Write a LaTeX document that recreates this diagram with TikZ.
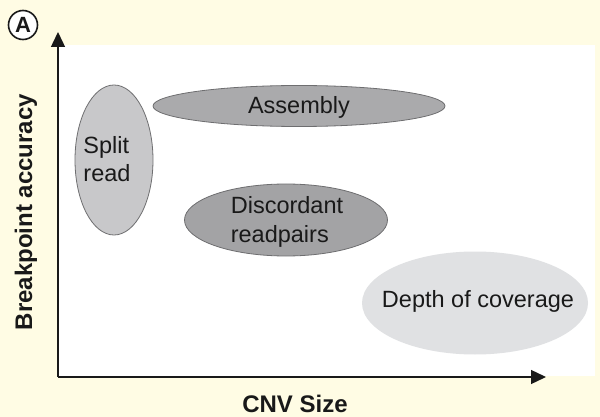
\documentclass[tikz,border=0pt]{standalone}
\usepackage{fontspec}
\setmainfont{Liberation Sans}
\usetikzlibrary{shapes.geometric,arrows.meta}
\definecolor{cream}{RGB}{255,252,228}
\definecolor{edgegray}{RGB}{110,110,112}
\definecolor{splitfill}{RGB}{200,200,202}
\definecolor{asmfill}{RGB}{170,170,172}
\definecolor{discfill}{RGB}{163,163,165}
\definecolor{depthfill}{RGB}{224,225,227}
\definecolor{ink}{RGB}{25,25,25}
\tikzset{
  blob/.style={ellipse, draw=edgegray, line width=0.8pt, inner sep=0pt},
  lbl/.style={font=\fontsize{23.5}{28.5}\selectfont, text=ink, inner sep=0pt, align=left},
  axlbl/.style={font=\fontsize{24}{28}\selectfont\bfseries, text=ink, inner sep=0pt},
  axis/.style={line width=1.4pt, ink, -{Triangle[length=15pt,width=14pt]}}
}
\begin{document}
\begin{tikzpicture}[x=1pt,y=-1pt]
\useasboundingbox (0,0) rectangle (600,417);
\fill[cream] (0,0) rectangle (600,417);
\fill[white] (58,45) rectangle (595,376);
% ellipses
\node[blob, fill=splitfill, minimum width=78pt, minimum height=150pt] (split) at (114,160) {};
\node[blob, fill=asmfill, minimum width=292pt, minimum height=41pt] (asm) at (299,106) {};
\node[blob, fill=discfill, minimum width=203pt, minimum height=72pt] (disc) at (286,220) {};
\node[ellipse, fill=depthfill, inner sep=0pt, minimum width=226pt, minimum height=103pt] (depth) at (475,303) {};
% labels
\node[lbl] (splitt) at (107,159) {Split\\read};
\node[lbl] (asmt) at (299,107) {Assembly};
\node[lbl] (disct) at (287,222) {Discordant\\readpairs};
\node[lbl] (deptht) at (478,301) {Depth of coverage};
% axes
\coordinate (origin) at (58,377);
\coordinate (ytip) at (58,32);
\coordinate (xtip) at (546,377);
\draw[axis] (origin) -- (ytip);
\draw[axis] (origin) -- (xtip);
\node[axlbl] (xlab) at (295,404) {CNV Size};
\node[axlbl, rotate=90] (ylab) at (26,212) {Breakpoint accuracy};
% panel letter
\node[circle, draw=ink, line width=1.6pt, fill=white, minimum size=29pt, inner sep=0pt, font=\fontsize{22}{22}\selectfont\bfseries, text=ink] (panel) at (23,25) {A};
\end{tikzpicture}
\end{document}
